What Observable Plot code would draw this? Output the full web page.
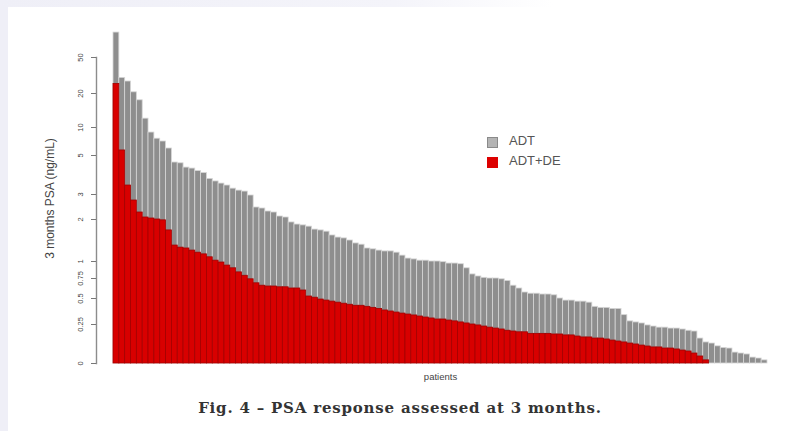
<!DOCTYPE html>
<html>
<head>
<meta charset="utf-8">
<script src="https://cdn.jsdelivr.net/npm/d3@7"></script>
<script src="https://cdn.jsdelivr.net/npm/@observablehq/plot@0.6"></script>
<style>
  html, body { margin: 0; padding: 0; }
  body { width: 790px; height: 431px; position: relative; overflow: hidden;
         background: linear-gradient(to right, #efeff7 0px, #efeff7 8px, #ffffff 8px); }
  #topstrip { position: absolute; left: 0; top: 0; width: 790px; height: 7px;
         background: linear-gradient(to right, #efeff7 0%, #f4f4fa 50%, #ffffff 70%); }
  #chart { position: absolute; left: 0; top: 0; }
  .leg { position: absolute; font-family: "Liberation Sans", Arial, sans-serif; font-size: 13px; color: #555; }
  .sw { position: absolute; width: 11px; height: 11px; }
  #caption { position: absolute; left: 0; top: 399px; width: 800px; text-align: center;
         font-family: "DejaVu Serif", serif; font-weight: bold; font-size: 15px; letter-spacing: 0.8px; color: #333; }
</style>
</head>
<body>
<div id="topstrip"></div>
<div id="chart"></div>
<div class="sw" style="left:487px; top:137px; background:#b4b4b4; box-sizing:border-box; border:1px solid #8a8a8a;"></div>
<div class="leg" style="left:509px; top:133px;">ADT</div>
<div class="sw" style="left:487px; top:157px; background:#dd0000;"></div>
<div class="leg" style="left:509px; top:153px;">ADT+DE</div>
<div id="caption">Fig. 4 – PSA response assessed at 3 months.</div>
<script>
// Series values (3-month PSA, ng/mL), each group sorted descending
const adt = [93, 33, 30, 21, 18, 12.6, 9.1, 8.0, 7.5, 6.25,
  4.64, 4.6, 4.38, 4.33, 4.2, 4.1, 3.8, 3.67, 3.56, 3.46,
  3.3, 3.2, 3.15, 2.96, 2.48, 2.44, 2.32, 2.28, 2.12, 2.08,
  1.93, 1.88, 1.86, 1.83, 1.76, 1.74, 1.71, 1.62, 1.57, 1.55,
  1.5, 1.43, 1.4, 1.31, 1.29, 1.26, 1.24, 1.24, 1.21, 1.14,
  1.07, 1.05, 1.02, 1.02, 1.0, 1.0, 0.99, 0.97, 0.97, 0.96,
  0.9, 0.81, 0.78, 0.76, 0.75, 0.75, 0.74, 0.72, 0.66, 0.625,
  0.575, 0.56, 0.56, 0.55, 0.55, 0.54, 0.5, 0.48, 0.48, 0.47,
  0.47, 0.46, 0.42, 0.41, 0.41, 0.40, 0.40, 0.34, 0.28, 0.27,
  0.26, 0.244, 0.237, 0.23, 0.23, 0.224, 0.224, 0.218, 0.21, 0.205,
  0.16, 0.135, 0.128, 0.11, 0.10, 0.096, 0.07, 0.064, 0.058, 0.038, 0.032, 0.02];
const adtDe = [28, 5.9, 3.46, 2.76, 2.28, 2.08, 2.04, 2.0, 1.98, 1.74,
  1.38, 1.33, 1.31, 1.26, 1.21, 1.17, 1.1, 1.02, 0.985, 0.94,
  0.9, 0.84, 0.79, 0.74, 0.69, 0.66, 0.65, 0.65, 0.64, 0.64,
  0.625, 0.625, 0.6, 0.525, 0.51, 0.49, 0.48, 0.47, 0.46, 0.45,
  0.44, 0.43, 0.43, 0.42, 0.41, 0.40, 0.385, 0.375, 0.365, 0.355,
  0.346, 0.337, 0.327, 0.317, 0.308, 0.298, 0.298, 0.288, 0.28, 0.27,
  0.26, 0.25, 0.244, 0.237, 0.23, 0.224, 0.218, 0.21, 0.205, 0.2,
  0.2, 0.19, 0.19, 0.19, 0.19, 0.186, 0.186, 0.18, 0.18, 0.173,
  0.167, 0.167, 0.16, 0.16, 0.154, 0.147, 0.141, 0.135, 0.128, 0.122,
  0.115, 0.109, 0.103, 0.103, 0.096, 0.096, 0.09, 0.083, 0.077, 0.064,
  0.045, 0.02];
// Categories: patient rank
const patients = d3.range(1, adt.length + 1);
// Axis tick values and labels (the original axis is non-uniform)
const yTicks = [0, 0.25, 0.5, 0.75, 1, 2, 3, 5, 10, 20, 50];
const yTickLabels = ["0", "0.25", "0.5", "0.75", "1", "2", "3", "5", "10", "20", "50"];
const yTitle = "3 months PSA (ng/mL)";

const adtData = adt.map((v, i) => ({patient: patients[i], psa: v}));
const deData = adtDe.map((v, i) => ({patient: patients[i], psa: v}));

// Piecewise y scale reproducing the original's irregular axis spacing
const yDomain = [0, 0.25, 0.5, 0.75, 1, 2, 3, 5, 10, 20, 50, 100];
const yRange = [363, 324, 298, 278, 261, 219, 194, 155, 127, 93, 57, 28];
const xRange = [113, 767];

const chart = Plot.plot({
  width: 790,
  height: 390,
  marginLeft: 96,
  marginRight: 6,
  marginTop: 57,
  marginBottom: 27,
  style: {fontFamily: "'Liberation Sans', Arial, sans-serif", fontSize: "9px", color: "#444", background: "transparent"},
  x: {type: "band", domain: patients, range: xRange, padding: 0},
  y: {type: "linear", domain: yDomain, range: yRange},
  marks: [
    Plot.barY(adtData, {x: "patient", y: "psa", fill: "#8e8e8e", stroke: "#d6d6d6", strokeWidth: 0.8}),
    Plot.barY(deData, {x: "patient", y: "psa", fill: "#d80000", stroke: "#a30000", strokeWidth: 0.8}),
    Plot.frame({anchor: "left", stroke: "#8c8c8c", strokeWidth: 1.4}),
    Plot.axisY({ticks: yTicks, tickFormat: (d) => yTickLabels[yTicks.indexOf(d)], tickSize: 5, tickRotate: -90,
      tickPadding: 9, fontSize: 7.5, stroke: "#777", label: null}),
    Plot.text([yTitle], {text: (d) => d, frameAnchor: "left", textAnchor: "middle", rotate: -90, dx: -46, dy: -12, fontSize: 12, fill: "#444"}),
    Plot.axisX({ticks: [], label: "patients", labelAnchor: "center", labelOffset: 16, fontSize: 9.5})
  ]
});
document.getElementById("chart").appendChild(chart);
</script>
</body>
</html>
